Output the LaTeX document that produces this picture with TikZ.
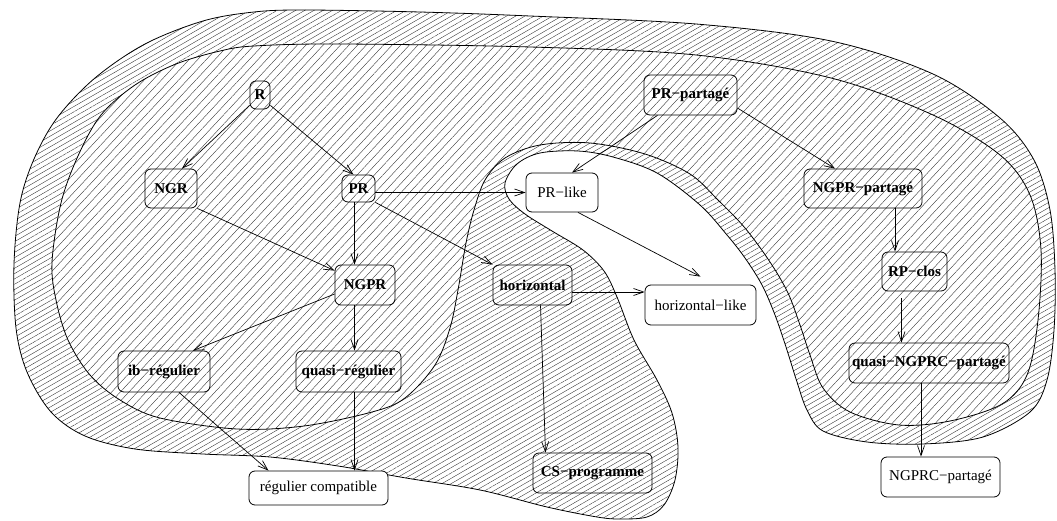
\documentclass[tikz,border=0pt]{standalone}
\usepackage{fontspec}
\setmainfont{Liberation Serif}
\usetikzlibrary{arrows.meta,patterns.meta}
\begin{document}
\begin{tikzpicture}[x=1pt,y=-1pt,
  box/.style={draw,rounded corners=6pt,line width=0.8pt,inner sep=0pt,font=\fontsize{15}{18}\selectfont\bfseries},
  obox/.style={box,fill=white,font=\fontsize{15}{18}\selectfont},
  arr/.style={line width=0.7pt,-{Straight Barb[length=10pt,width=7pt,line width=0.7pt]}},
  dense/.style={pattern={Lines[angle=30,distance=4.6pt,line width=0.35pt]},pattern color=black!85},
  coarse/.style={pattern={Lines[angle=47,distance=6.3pt,line width=0.35pt]},pattern color=black!85},
  outline/.style={line width=0.8pt}]
\useasboundingbox (0,0) rectangle (1057,521);

% outer region (dense hatching)
\def\outerpath{plot[smooth cycle,tension=0.55] coordinates {
 (14,264) (20,203) (34,159) (57,118) (95,78) (145,44) (203,21) (254,12) (304,10) (420,12) (530,16)
 (696,24) (831,41) (933,74) (1000,118) (1034,160) (1050,210) (1055,270) (1054,330) (1047,380)
 (1030,412) (983,437) (923,444) (867,442) (823,431) (807,410) (797,382) (786,347) (775,315)
 (762,285) (745,258) (727,235) (700,205) (657,173) (613,157) (578,151) (540,153) (517,164)
 (505,183) (509,199) (525,214) (552,231) (583,250) (604,271) (617,297) (634,340) (657,380)
 (672,413) (678,447) (675,480) (664,505) (647,517) (620,519) (597,517) (547,507) (480,490)
 (406,478) (338,466) (270,457) (203,454) (135,449) (85,436) (51,412) (27,372) (16,328)}}
% inner horseshoe region (coarse hatching)
\def\innerpath{plot[smooth cycle,tension=0.55] coordinates {
 (52,262) (61,203) (78,156) (101,115) (135,85) (176,64) (220,51) (254,46) (338,44) (530,47)
 (696,55) (831,78) (933,115) (1000,155) (1030,195) (1041,250) (1038,320) (1027,375) (1002,404)
 (950,421) (899,425) (850,412) (823,388) (810,355) (800,325) (788,293) (770,262) (745,228)
 (718,200) (690,174) (645,154) (590,143) (540,145) (505,158) (485,180) (474,210) (466,243)
 (458,290) (450,328) (435,365) (405,398) (372,412) (304,426) (237,429) (160,418) (120,400)
 (90,375) (68,340) (56,300)}}

\fill[dense] \outerpath;
\fill[white] \innerpath;
\fill[coarse] \innerpath;
\draw[outline] \outerpath;
\draw[outline] \innerpath;

% nodes
\node[box,minimum width=20pt,minimum height=28pt] (R) at (260,95) {R};
\node[box,minimum width=52pt,minimum height=39pt] (NGR) at (171,188.5) {NGR};
\node[box,minimum width=33pt,minimum height=27pt] (PR) at (358.5,188.5) {PR};
\node[box,minimum width=60pt,minimum height=40pt] (NGPR) at (365,285) {NGPR};
\node[box,minimum width=92pt,minimum height=41pt] (ib) at (164,371.5) {ib−régulier};
\node[box,minimum width=105pt,minimum height=41pt] (qreg) at (348.5,371.5) {quasi−régulier};
\node[obox,minimum width=139pt,minimum height=34pt] (rc) at (318.5,488) {régulier compatible};
\node[box,minimum width=79pt,minimum height=40pt] (horizontal) at (532.5,285) {horizontal};
\node[obox,minimum width=72pt,minimum height=39pt] (PRlike) at (562,192.5) {PR−like};
\node[obox,minimum width=111pt,minimum height=40pt] (hlike) at (700.5,305) {horizontal−like};
\node[box,minimum width=119pt,minimum height=40pt] (CS) at (592.5,473) {CS−programme};
\node[box,minimum width=93pt,minimum height=40pt] (PRp) at (690.5,95) {PR−partagé};
\node[box,minimum width=118pt,minimum height=39pt] (NGPRp) at (863,188.5) {NGPR−partagé};
\node[box,minimum width=65pt,minimum height=39pt] (RPclos) at (914.5,271.5) {RP−clos};
\node[box,minimum width=160pt,minimum height=40pt] (qN) at (929,363) {quasi−NGPRC−partagé};
\node[obox,minimum width=119pt,minimum height=40pt] (NGPRC) at (940.5,477) {NGPRC−partagé};

% helper coordinates
\coordinate (colA) at ([xshift=-4pt]PR.south);
\coordinate (hE) at ([yshift=-7pt]horizontal.east);
\coordinate (colB) at ([xshift=32pt]NGPRp.south);
\coordinate (colC) at ([xshift=-13pt,yshift=-7pt]RPclos.south);
\coordinate (colD) at ([xshift=-8pt]qN.south);

% connectors
\draw[arr] (R.225) -- ([xshift=11pt]NGR.north);
\draw[arr] (R.315) -- ([xshift=-5pt]PR.north);
\draw[arr] (PR.east |- PRlike.west) -- (PRlike.west);
\draw[arr] (colA) -- (colA |- NGPR.north);
\draw[arr] (PR.south east) -- (horizontal.north west);
\draw[arr] (NGR.south east) -- ([yshift=-6pt]NGPR.north west);
\draw[arr] ([yshift=-9pt]NGPR.west) -- ([xshift=29pt]ib.north);
\draw[arr] (colA |- NGPR.south) -- (colA |- qreg.north);
\draw[arr] ([xshift=15pt]ib.south) -- ([xshift=-50pt]rc.north);
\draw[arr] (colA |- qreg.south) -- (colA |- rc.north);
\draw[arr] (hE) -- (hE -| hlike.west);
\draw[arr] ([xshift=8pt]horizontal.south) -- ([xshift=-47pt]CS.north);
\draw[arr] ([xshift=16pt]PRlike.south) -- ([yshift=8pt]hlike.north);
\draw[arr] ([xshift=-33pt]PRp.south) -- ([xshift=10pt]PRlike.north);
\draw[arr] ([yshift=-13pt]PRp.east) -- ([xshift=-28pt]NGPRp.north);
\draw[arr] (colB) -- (colB |- RPclos.north);
\draw[arr] (colC) -- (colC |- qN.north);
\draw[arr] (colD) -- (colD |- NGPRC.north);
\end{tikzpicture}
\end{document}
